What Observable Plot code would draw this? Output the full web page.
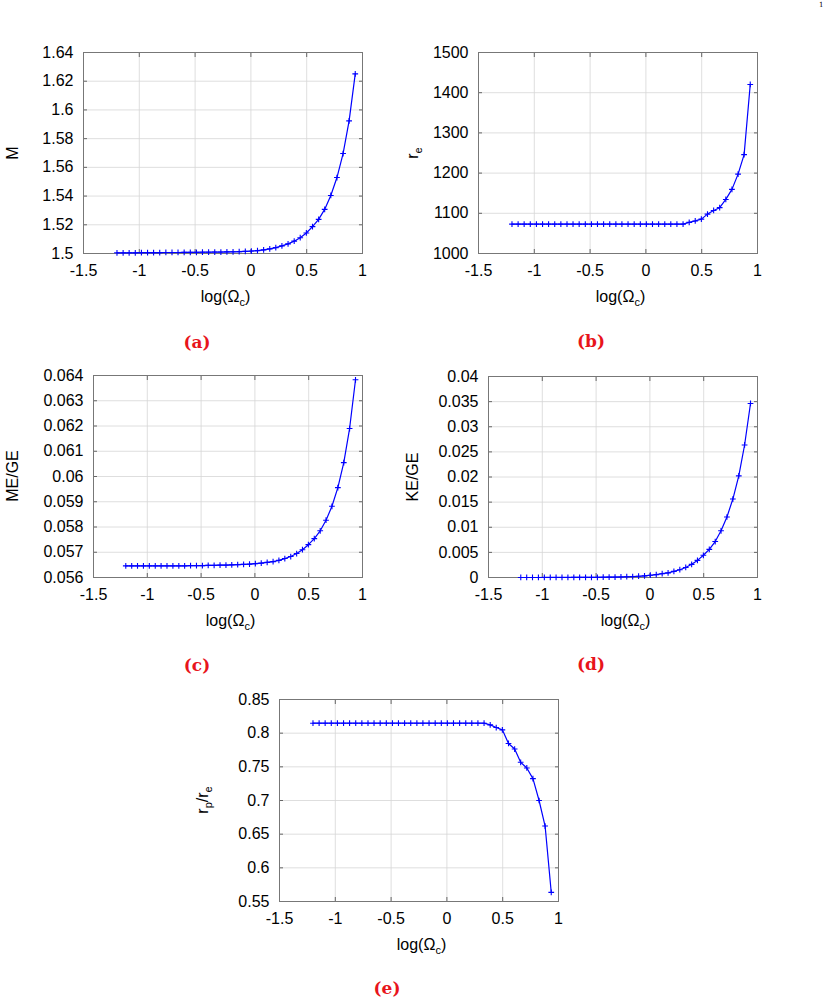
<!DOCTYPE html>
<html><head><meta charset="utf-8">
<script src="https://cdn.jsdelivr.net/npm/d3@7"></script>
<script src="https://cdn.jsdelivr.net/npm/@observablehq/plot@0.6"></script>
<style>
body{margin:0;background:#fff;}
#page{position:relative;width:830px;height:1000px;font-family:"Liberation Sans",Arial,sans-serif;color:#000;overflow:hidden}
.panel{position:absolute;}
.xlab{position:absolute;font-size:16px;transform:translate(-50%,-50%);white-space:nowrap}
.ylab{position:absolute;font-size:16px;transform:translate(-50%,-50%) rotate(-90deg);white-space:nowrap}
.cap{position:absolute;font-family:"DejaVu Serif",serif;font-weight:bold;font-size:17px;color:#e8141b;transform:translate(-50%,-50%);white-space:nowrap}
.pnum{position:absolute;font-family:"DejaVu Serif",serif;font-size:7px;left:819px;top:1px}
sub{font-size:11px;vertical-align:-4px;line-height:0}
</style></head>
<body><div id="page"></div>
<script>
// x values: log(Omega_c)
const logOmega = [-1.200,-1.145,-1.091,-1.036,-0.981,-0.926,-0.872,-0.817,-0.762,-0.707,
  -0.653,-0.598,-0.543,-0.488,-0.434,-0.379,-0.324,-0.269,-0.215,-0.160,
  -0.105,-0.050,0.004,0.059,0.114,0.169,0.223,0.278,0.333,0.388,
  0.442,0.497,0.552,0.607,0.661,0.716,0.771,0.826,0.880,0.935];
// (a) M
const massM = [1.5005,1.5005,1.5005,1.5005,1.5006,1.5006,1.5006,1.5006,1.5007,1.5007,
  1.5007,1.5008,1.5008,1.5008,1.5009,1.5009,1.5010,1.5010,1.5011,1.5012,
  1.5013,1.5015,1.5017,1.5020,1.5025,1.5032,1.5041,1.5053,1.5067,1.5086,
  1.5110,1.5143,1.5187,1.5238,1.5307,1.5404,1.5529,1.5696,1.5924,1.6251];
// (b) r_e
const radiusRe = [1073,1073,1073,1073,1073,1073,1073,1073,1073,1073,
  1073,1073,1073,1073,1073,1073,1073,1073,1073,1073,
  1073,1073,1073,1073,1073,1073,1073,1073,1073,1077.5,
  1081,1085.5,1098,1107,1114,1134.5,1159.5,1197.5,1246,1420.5];
// (c) ME/GE
const meOverGe = [0.05646,0.05646,0.05646,0.05646,0.05646,0.05646,0.05646,0.05646,0.05646,0.05646,
  0.05646,0.05647,0.05647,0.05647,0.05648,0.05648,0.05649,0.05649,0.05650,0.05651,
  0.05652,0.05653,0.05655,0.05657,0.05660,0.05663,0.05668,0.05675,0.05683,0.05695,
  0.05710,0.05730,0.05754,0.05785,0.05827,0.05882,0.05956,0.06055,0.06190,0.06383];
// (d) KE/GE
const keOverGe = [0.000002,0.000003,0.000004,0.000005,0.000006,0.000007,0.000009,0.000011,0.000014,0.000017,
  0.000021,0.000027,0.000034,0.000043,0.000055,0.00007,0.00009,0.00011,0.00015,0.00019,
  0.00025,0.00032,0.00045,0.00058,0.00076,0.00093,0.00122,0.00155,0.00200,0.00262,
  0.00340,0.00442,0.00560,0.00716,0.00930,0.01204,0.01561,0.02023,0.02637,0.03463];
// (e) r_p/r_e
const axisRatio = [0.8148,0.8148,0.8148,0.8148,0.8148,0.8148,0.8148,0.8148,0.8148,0.8148,
  0.8148,0.8148,0.8148,0.8148,0.8148,0.8148,0.8148,0.8148,0.8148,0.8148,
  0.8148,0.8148,0.8148,0.8148,0.8148,0.8148,0.8148,0.8148,0.8148,0.8123,
  0.8084,0.8049,0.7847,0.7764,0.7567,0.7483,0.7325,0.7000,0.6621,0.5635];

const xTicks = [-1.5,-1,-0.5,0,0.5,1];
const ticksM = [1.5,1.52,1.54,1.56,1.58,1.6,1.62,1.64];
const ticksRe = [1000,1100,1200,1300,1400,1500];
const ticksMe = [0.056,0.057,0.058,0.059,0.06,0.061,0.062,0.063,0.064];
const ticksKe = [0,0.005,0.01,0.015,0.02,0.025,0.03,0.035,0.04];
const ticksRatio = [0.55,0.6,0.65,0.7,0.75,0.8,0.85];

const xLabelHtml = "log(Ω<sub>c</sub>)";
const panels = [
  {values: massM, yTicks: ticksM, ylab: "M", cap: "(a)", left: 0, top: 40, mL: 83, mR: 18, mT: 12, mB: 37, capX: 197, capY: 342},
  {values: radiusRe, yTicks: ticksRe, ylab: "r<sub>e</sub>", cap: "(b)", left: 400, top: 40, mL: 78, mR: 23, mT: 12, mB: 37, capX: 591, capY: 341},
  {values: meOverGe, yTicks: ticksMe, ylab: "ME/GE", cap: "(c)", left: 0, top: 360, mL: 93, mR: 18, mT: 15, mB: 33, capX: 197, capY: 665},
  {values: keOverGe, yTicks: ticksKe, ylab: "KE/GE", cap: "(d)", left: 400, top: 360, mL: 88, mR: 23, mT: 16, mB: 33, capX: 591, capY: 664},
  {values: axisRatio, yTicks: ticksRatio, ylab: "r<sub>p</sub>/r<sub>e</sub>", cap: "(e)", left: 190, top: 680, mL: 89, mR: 12, mT: 19, mB: 29, capX: 387, capY: 988}
];
const W = 380, H = 250;
const fmt = d => String(d);
const blank = () => "";
const page = document.getElementById("page");

for (const p of panels) {
  const data = logOmega.map((x, i) => ({x, y: p.values[i]}));
  const yDomain = [p.yTicks[0], p.yTicks[p.yTicks.length - 1]];
  const chart = Plot.plot({
    width: W, height: H,
    marginLeft: p.mL, marginRight: p.mR, marginTop: p.mT, marginBottom: p.mB,
    style: {fontFamily: "'Liberation Sans', Arial, sans-serif", fontSize: "16px", color: "#000", background: "transparent", overflow: "visible"},
    x: {domain: [-1.5, 1]},
    y: {domain: yDomain},
    marks: [
      Plot.gridX(xTicks, {stroke: "#d6d6d6", strokeOpacity: 1, strokeWidth: 0.8}),
      Plot.gridY(p.yTicks, {stroke: "#d6d6d6", strokeOpacity: 1, strokeWidth: 0.8}),
      Plot.axisX(xTicks, {tickSize: 0, tickPadding: 11, tickFormat: fmt, label: null}),
      Plot.axisY(p.yTicks, {tickSize: 0, tickPadding: 10, tickFormat: fmt, label: null}),
      Plot.axisX(xTicks, {anchor: "bottom", tickSize: -4, tickFormat: blank, label: null, stroke: "#666"}),
      Plot.axisX(xTicks, {anchor: "top", tickSize: -4, tickFormat: blank, label: null, stroke: "#666"}),
      Plot.axisY(p.yTicks, {anchor: "left", tickSize: -4, tickFormat: blank, label: null, stroke: "#666"}),
      Plot.axisY(p.yTicks, {anchor: "right", tickSize: -4, tickFormat: blank, label: null, stroke: "#666"}),
      Plot.frame({stroke: "#777", strokeWidth: 1}),
      Plot.line(data, {x: "x", y: "y", stroke: "#0000ff", strokeWidth: 1.2}),
      Plot.dot(data, {x: "x", y: "y", symbol: "plus", stroke: "#0000ff", fill: "none", r: 2, strokeWidth: 1.1})
    ]
  });
  const wrap = document.createElement("div");
  wrap.className = "panel";
  wrap.style.left = p.left + "px";
  wrap.style.top = p.top + "px";
  wrap.appendChild(chart);
  page.appendChild(wrap);

  const frameCx = p.left + p.mL + (W - p.mL - p.mR) / 2;
  const frameCy = p.top + p.mT + (H - p.mT - p.mB) / 2;
  const frameBottom = p.top + H - p.mB;

  const xl = document.createElement("div");
  xl.className = "xlab";
  xl.innerHTML = xLabelHtml;
  xl.style.left = (frameCx + 3) + "px";
  xl.style.top = (frameBottom + 44) + "px";
  page.appendChild(xl);

  const yl = document.createElement("div");
  yl.className = "ylab";
  yl.innerHTML = p.ylab;
  yl.style.left = (p.left + 13) + "px";
  yl.style.top = frameCy + "px";
  page.appendChild(yl);

  const cap = document.createElement("div");
  cap.className = "cap";
  cap.textContent = p.cap;
  cap.style.left = p.capX + "px";
  cap.style.top = p.capY + "px";
  page.appendChild(cap);
}
const pn = document.createElement("div");
pn.className = "pnum";
pn.textContent = "1";
page.appendChild(pn);
</script>
</body></html>
